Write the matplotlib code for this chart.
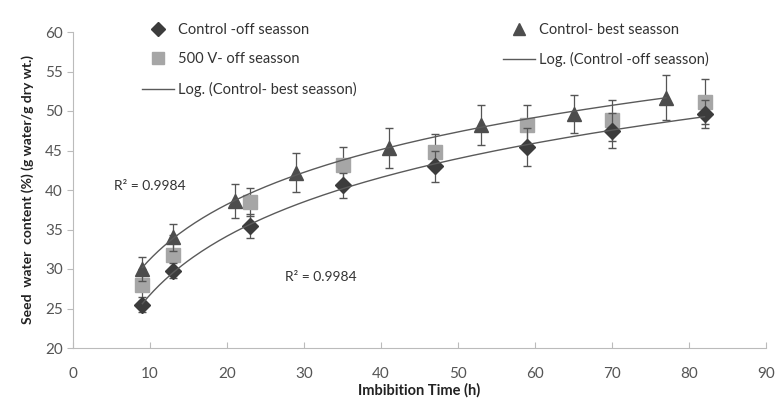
import numpy as np
import matplotlib

matplotlib.use("Agg")
import matplotlib.pyplot as plt
from matplotlib.lines import Line2D

# off-season sampling times (h)
t_off = [9, 13, 23, 35, 47, 59, 70, 82]
ctrl_off = [25.5, 29.8, 35.4, 40.6, 43.0, 45.5, 47.5, 49.6]
ctrl_off_err = [1.0, 1.0, 1.5, 1.6, 2.0, 2.4, 2.2, 1.8]
v500_off = [28.0, 31.8, 38.5, 43.2, 44.8, 48.2, 48.8, 51.2]
v500_off_err = [2.0, 2.5, 1.8, 2.2, 2.3, 2.5, 2.6, 2.8]

# best-season sampling times (h)
t_best = [9, 13, 21, 29, 41, 53, 65, 77]
ctrl_best = [30.0, 34.0, 38.6, 42.2, 45.3, 48.2, 49.6, 51.7]
ctrl_best_err = [1.5, 1.7, 2.2, 2.5, 2.5, 2.5, 2.4, 2.8]

r2_text = "R² = 0.9984"

plt.rcParams["font.family"] = ["Lato", "DejaVu Sans"]

fig = plt.figure(figsize=(7.77, 4.0), dpi=100)
ax = fig.add_axes([0.094, 0.13, 0.892, 0.79])

dark = "#3c3c3c"
tri_col = "#4d4d4d"
sq_col = "#a6a6a6"
line_col = "#5a5a5a"
err_col = "#555555"

ax.errorbar(t_off, v500_off, yerr=v500_off_err, fmt="s", ms=10, color=sq_col,
            ecolor=err_col, elinewidth=0.9, capsize=3, zorder=3)
ax.errorbar(t_best, ctrl_best, yerr=ctrl_best_err, fmt="^", ms=10, color=tri_col,
            ecolor=err_col, elinewidth=0.9, capsize=3, zorder=4)
ax.errorbar(t_off, ctrl_off, yerr=ctrl_off_err, fmt="D", ms=8, color=dark,
            ecolor=err_col, elinewidth=0.9, capsize=3, zorder=5)

# logarithmic trendlines
for t, y in [(t_best, ctrl_best), (t_off, ctrl_off)]:
    a, b = np.polyfit(np.log(t), y, 1)
    tt = np.linspace(min(t), max(t), 200)
    ax.plot(tt, a * np.log(tt) + b, color=line_col, lw=1, zorder=6)

ax.text(5.3, 40.5, r2_text, fontsize=10, color="#333333", va="center")
ax.text(27.5, 29.0, r2_text, fontsize=10, color="#333333", va="center")

ax.set_xlim(0, 90)
ax.set_ylim(20, 60)
ax.set_xticks(range(0, 91, 10))
ax.set_yticks(range(20, 61, 5))
for side in ("top", "right"):
    ax.spines[side].set_visible(False)
for side in ("left", "bottom"):
    ax.spines[side].set_color("#bbbbbb")
ax.tick_params(axis="x", direction="in", length=4, color="#bbbbbb",
               labelsize=11, labelcolor="#555555", pad=14)
ax.tick_params(axis="y", direction="out", length=4, color="#bbbbbb",
               labelsize=11, labelcolor="#555555")

ax.set_xlabel("Imbibition Time (h)", fontsize=10.5, fontweight="bold",
              color="#222222", labelpad=1)
ax.set_ylabel("Seed  water  content (%) (g water/g dry wt.)", fontsize=10,
              fontweight="bold", color="#222222", labelpad=8)

handles = [
    Line2D([], [], marker="D", ls="none", color=dark, ms=7),
    Line2D([], [], marker="s", ls="none", color=sq_col, ms=9),
    Line2D([], [], color=line_col, lw=1),
    Line2D([], [], marker="^", ls="none", color=tri_col, ms=9),
    Line2D([], [], color=line_col, lw=1),
]
labels = [
    "Control -off seasson",
    "500 V- off seasson",
    "Log. (Control- best seasson)",
    "Control- best seasson",
    "Log. (Control -off seasson)",
]
ax.legend(handles, labels, ncol=2, loc="upper left", bbox_to_anchor=(0.08, 1.07),
          frameon=False, fontsize=10.5, labelcolor="#333333", columnspacing=10,
          handlelength=2.2, handletextpad=0.3, labelspacing=1.05)

fig.savefig("out.png", dpi=100)
